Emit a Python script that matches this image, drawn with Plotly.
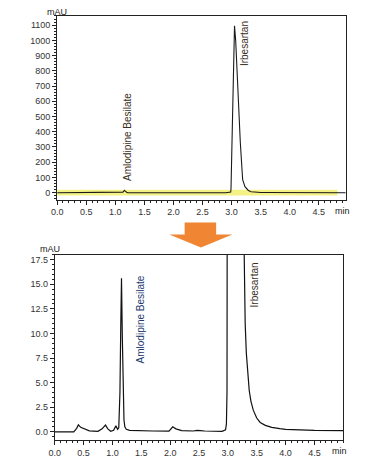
import plotly.graph_objects as go

W, H = 380, 458

# Chromatogram (time in min, absorbance in mAU)
time_min = [0.00, 0.33, 0.38, 0.41, 0.45, 0.50, 0.60, 0.75, 0.82, 0.88, 0.92, 0.97,
            1.02, 1.06, 1.09, 1.11, 1.13, 1.145, 1.157, 1.17, 1.185, 1.20, 1.215,
            1.24, 1.30, 1.50, 1.70, 1.98, 2.045, 2.10, 2.20, 2.40, 2.47, 2.52, 2.60,
            2.90, 2.96, 2.975, 2.985, 2.99, 3.00, 3.02, 3.04, 3.05, 3.07, 3.09, 3.12,
            3.15, 3.19, 3.23, 3.28, 3.30, 3.32, 3.34, 3.37, 3.40, 3.44, 3.50, 3.56,
            3.65, 3.76, 3.90, 4.00, 4.50, 5.00]
absorb_mau = [0.0, 0.0, 0.35, 0.7, 0.45, 0.35, 0.1, 0.05, 0.3, 0.68, 0.3, 0.05,
              0.15, 0.6, 0.25, 0.4, 4.0, 11.0, 15.6, 10.0, 3.5, 1.2, 0.5,
              0.25, 0.15, 0.1, 0.08, 0.07, 0.5, 0.3, 0.12, 0.08, 0.15, 0.12, 0.08,
              0.05, 0.2, 0.8, 4.0, 30, 250, 700, 1050, 1095, 1000, 820, 600,
              330, 85, 40, 18, 11, 8.0, 6.0, 4.2, 3.1, 2.2, 1.4, 0.95,
              0.65, 0.45, 0.32, 0.25, 0.15, 0.12]

x_ticks = [0.0, 0.5, 1.0, 1.5, 2.0, 2.5, 3.0, 3.5, 4.0, 4.5]
y_ticks_top = [0, 100, 200, 300, 400, 500, 600, 700, 800, 900, 1000, 1100]
y_ticks_bottom = [0.0, 2.5, 5.0, 7.5, 10.0, 12.5, 15.0, 17.5]

peak_names = ["Amlodipine Besilate", "Irbesartan"]


def px(x):
    return x / W


def py(y):
    return 1 - y / H


FONT = "Liberation Sans, Arial, sans-serif"
TICKC = "#333333"

fig = go.Figure()
fig.add_trace(go.Scatter(x=time_min, y=absorb_mau, mode="lines",
                         line=dict(color="#1a1a1a", width=1.1),
                         xaxis="x", yaxis="y", showlegend=False, hoverinfo="skip"))
fig.add_trace(go.Scatter(x=time_min, y=absorb_mau, mode="lines",
                         line=dict(color="#111111", width=1.2),
                         xaxis="x2", yaxis="y2", showlegend=False, hoverinfo="skip"))

axis_common = dict(showgrid=False, zeroline=False, showline=True, linecolor="#222",
                   linewidth=1, mirror=True, ticks="outside", ticklen=4, tickwidth=1,
                   tickcolor="#222", tickfont=dict(family=FONT, size=9, color=TICKC))

fig.update_layout(
    width=W, height=H, margin=dict(l=0, r=0, t=0, b=0),
    paper_bgcolor="white", plot_bgcolor="white",
    xaxis=dict(domain=[px(52), px(345)], range=[0, 4.96], anchor="y",
               tickvals=x_ticks, tickformat=".1f",
               minor=dict(dtick=0.1, ticks="outside", ticklen=2, tickcolor="#222"),
               **axis_common),
    yaxis=dict(domain=[py(200), py(16)], range=[-45, 1160], anchor="x",
               tickvals=y_ticks_top,
               minor=dict(dtick=20, ticks="outside", ticklen=2, tickcolor="#222"),
               **axis_common),
    xaxis2=dict(domain=[px(49.5), px(342.7)], range=[0, 5.0], anchor="y2",
                tickvals=x_ticks, tickformat=".1f",
                minor=dict(dtick=0.1, ticks="outside", ticklen=2, tickcolor="#222"),
                **axis_common),
    yaxis2=dict(domain=[py(441.3), py(255.3)], range=[-0.87, 18.0], anchor="x2",
                tickvals=y_ticks_bottom, tickformat=".1f",
                minor=dict(dtick=0.5, ticks="outside", ticklen=2, tickcolor="#222"),
                **axis_common),
)

# yellow band on the top chromatogram baseline
fig.add_shape(type="rect", xref="x", yref="y", x0=0, x1=4.82, y0=-18, y1=20,
              fillcolor="#f5f285", line=dict(width=0), layer="below")

# orange arrow between the panels
arrow = [(181.5, 223), (213.5, 223), (213.5, 235), (230, 235), (198, 248),
         (166, 235), (181.5, 235)]
path = "M " + " L ".join(f"{px(a)},{py(b)}" for a, b in arrow) + " Z"
fig.add_shape(type="path", xref="paper", yref="paper", path=path,
              fillcolor="#f08533", line=dict(width=0))

# axis unit labels
for x, y, t in [(52, 12, "mAU"), (45, 250, "mAU"), (342, 211, "min"), (339, 452, "min")]:
    fig.add_annotation(x=px(x), y=py(y), xref="paper", yref="paper", text=t,
                       showarrow=False, font=dict(family=FONT, size=9, color="#222"),
                       xanchor="center", yanchor="middle")

# peak labels
labels = [("x", "y", 1.22, 65, peak_names[0], "#3a2e22"),
          ("x", "y", 3.21, 820, peak_names[1], "#3a2e22"),
          ("x2", "y2", 1.48, 6.76, peak_names[0], "#1d3a6e"),
          ("x2", "y2", 3.455, 12.4, peak_names[1], "#3a2e22")]
for xr, yr, x, y, t, c in labels:
    fig.add_annotation(x=x, y=y, xref=xr, yref=yr, text=t, textangle=-90,
                       showarrow=False, xanchor="center", yanchor="bottom",
                       font=dict(family=FONT, size=10, color=c))

fig.write_html("out.html",
               config={"displayModeBar": False},
               post_script="document.body.style.margin='0px';"
                           "document.body.style.overflow='hidden';")
